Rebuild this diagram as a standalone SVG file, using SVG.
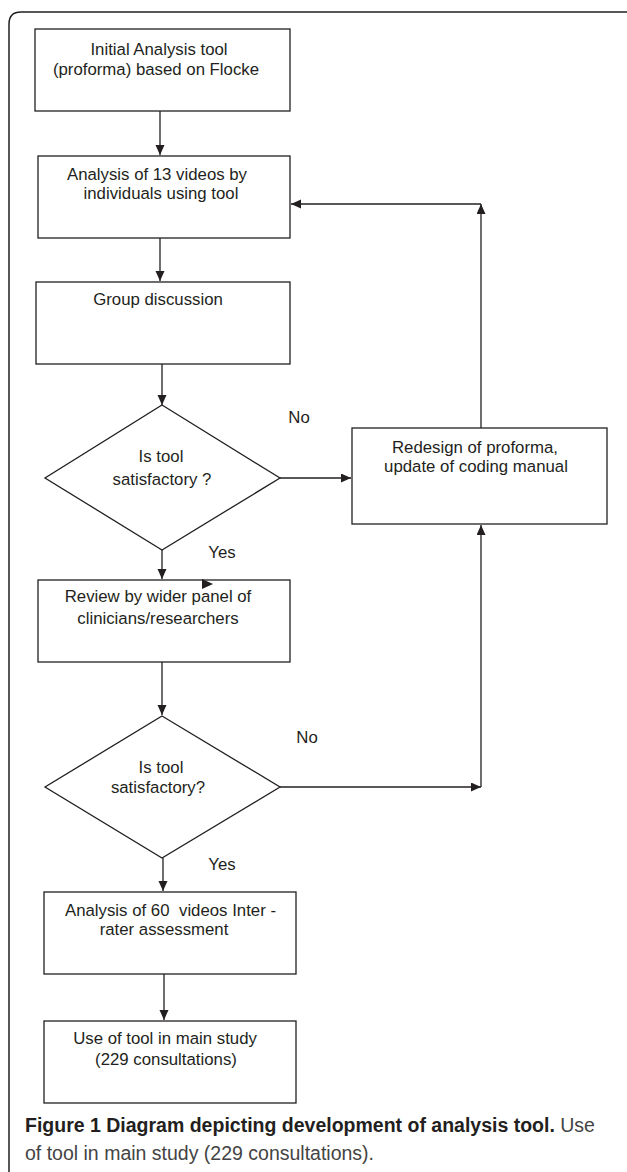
<svg xmlns="http://www.w3.org/2000/svg" width="627" height="1172" viewBox="0 0 627 1172">
<style>
.box{fill:#fff;stroke:#231f20;stroke-width:1.3}
.ln{fill:none;stroke:#231f20;stroke-width:1.3}
.t{font-family:"Liberation Sans",Arial,sans-serif;font-size:16.8px;fill:#231f20;text-anchor:middle}
.cb{font-family:"Liberation Sans",Arial,sans-serif;font-size:19.5px;font-weight:bold;fill:#231f20}
.cn{font-family:"Liberation Sans",Arial,sans-serif;font-size:19.5px;fill:#444}
</style>
<defs>
<marker id="ah" markerUnits="userSpaceOnUse" markerWidth="11" markerHeight="10" refX="10" refY="4.5" orient="auto">
<path d="M0,0 L10,4.5 L0,9 z" fill="#231f20"/>
</marker>
</defs>
<rect width="627" height="1172" fill="#fff"/>
<path id="frame" d="M9,1172 V24 Q9,12 21,12 H627" fill="none" stroke="#231f20" stroke-width="1.5"/>

<g id="n1">
<rect class="box" x="35" y="29" width="255" height="82"/>
<text class="t" x="159" y="55">Initial Analysis tool</text>
<text class="t" x="156" y="75">(proforma) based on Flocke</text>
</g>
<g id="n2">
<rect class="box" x="38" y="156" width="252" height="82"/>
<text class="t" x="157" y="180">Analysis of 13 videos by</text>
<text class="t" x="161" y="199">individuals using tool</text>
</g>
<g id="n3">
<rect class="box" x="36" y="282" width="254" height="82"/>
<text class="t" x="158" y="305">Group discussion</text>
</g>
<g id="d1">
<polygon class="box" points="162,405 280,478 162,550 45,478"/>
<text class="t" x="161" y="462">Is tool</text>
<text class="t" x="162" y="485">satisfactory ?</text>
</g>
<g id="n4">
<rect class="box" x="352" y="428" width="255" height="96"/>
<text class="t" x="475" y="453">Redesign of proforma,</text>
<text class="t" x="476" y="472">update of coding manual</text>
</g>
<g id="n5">
<rect class="box" x="38" y="580" width="252" height="82"/>
<text class="t" x="158" y="602">Review by wider panel of</text>
<text class="t" x="158" y="624">clinicians/researchers</text>
</g>
<g id="d2">
<polygon class="box" points="162,716 280,787 162,858 45,787"/>
<text class="t" x="161" y="773">Is tool</text>
<text class="t" x="158" y="793">satisfactory?</text>
</g>
<g id="n6">
<rect class="box" x="44" y="892" width="252" height="82"/>
<text class="t" y="916" style="text-anchor:start"><tspan x="65">Analysis of 60</tspan><tspan x="179">videos Inter -</tspan></text>
<text class="t" x="164" y="935">rater assessment</text>
</g>
<g id="n7">
<rect class="box" x="44" y="1021" width="252" height="82"/>
<text class="t" x="165" y="1044">Use of tool in main study</text>
<text class="t" x="166" y="1065">(229 consultations)</text>
</g>

<g id="connectors">
<line class="ln" x1="160" y1="111" x2="160" y2="155" marker-end="url(#ah)"/>
<line class="ln" x1="160" y1="238" x2="160" y2="281" marker-end="url(#ah)"/>
<line class="ln" x1="162" y1="364" x2="162" y2="405" marker-end="url(#ah)"/>
<line class="ln" x1="280" y1="478" x2="351" y2="478" marker-end="url(#ah)"/>
<line class="ln" x1="162" y1="550" x2="162" y2="579" marker-end="url(#ah)"/>
<line class="ln" x1="162" y1="662" x2="162" y2="715" marker-end="url(#ah)"/>
<line class="ln" x1="280" y1="787" x2="481" y2="787" marker-end="url(#ah)"/>
<line class="ln" x1="481" y1="787" x2="481" y2="525" marker-end="url(#ah)"/>
<line class="ln" x1="481" y1="428" x2="481" y2="204" marker-end="url(#ah)"/>
<line class="ln" x1="481" y1="204" x2="291" y2="204" marker-end="url(#ah)"/>
<line class="ln" x1="163" y1="858" x2="163" y2="891" marker-end="url(#ah)"/>
<line class="ln" x1="164" y1="974" x2="164" y2="1020" marker-end="url(#ah)"/>
<polygon points="202,579 202,589 213,584" fill="#231f20"/>
<text class="t" x="299" y="423">No</text>
<text class="t" x="222" y="558">Yes</text>
<text class="t" x="307" y="743">No</text>
<text class="t" x="222" y="870">Yes</text>
</g>

<g id="caption">
<text x="25" y="1132"><tspan class="cb">Figure 1 Diagram depicting development of analysis tool.</tspan><tspan class="cn"> Use</tspan></text>
<text class="cn" x="25" y="1160">of tool in main study (229 consultations).</text>
</g>
</svg>
